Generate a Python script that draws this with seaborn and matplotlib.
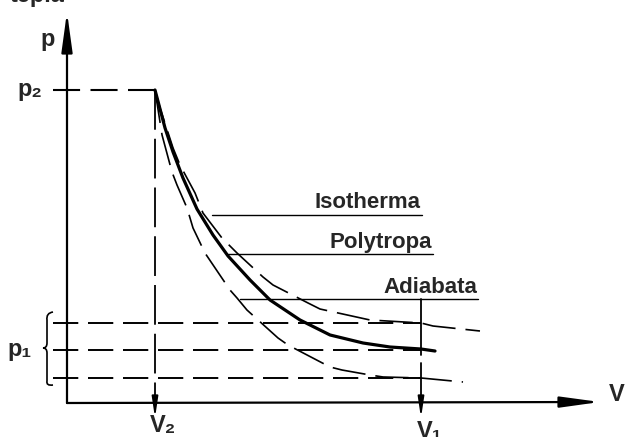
import numpy as np
import matplotlib
matplotlib.use("Agg")
import matplotlib.pyplot as plt
from matplotlib.path import Path
from matplotlib.patches import PathPatch
import seaborn as sns

# p-V diagram: values (V2 = 1, p2 = 10, arbitrary units)
V2, V1 = 1.0, 4.02
p2 = 10.0
p1_levels = [2.56, 1.68, 0.80]   # isotherm / polytrope / adiabat end pressure

iso_V = [1.00, 1.057, 1.205, 1.284, 1.455, 1.545, 1.761, 1.932, 2.227, 2.341, 2.739, 2.875, 3.443, 4.023, 4.159, 4.693]
iso_p = [10.0, 9.425, 8.147, 7.604, 6.709, 6.070, 5.272, 4.792, 4.026, 3.770, 3.195, 3.003, 2.652, 2.556, 2.460, 2.300]

poly_V = [1.00, 1.114, 1.205, 1.318, 1.477, 1.659, 1.830, 2.080, 2.307, 2.648, 2.989, 3.364, 3.670, 4.023, 4.182]
poly_p = [10.0, 8.786, 8.019, 7.188, 6.198, 5.367, 4.696, 3.930, 3.291, 2.652, 2.173, 1.917, 1.789, 1.725, 1.661]

adi_V = [1.00, 1.080, 1.193, 1.250, 1.364, 1.432, 1.568, 1.852, 1.932, 2.045, 2.398, 2.511, 2.989, 3.125, 3.443, 3.591, 4.023, 4.500]
adi_p = [10.0, 8.562, 7.380, 6.965, 6.230, 5.591, 4.792, 3.610, 3.355, 2.971, 2.077, 1.853, 1.150, 1.054, 0.895, 0.831, 0.799, 0.671]

curve_labels = ["Isotherma", "Polytropa", "Adiabata"]

# pixel -> data helper (origin at pixel 67,403; 88 px per V unit, 31.3 px per p unit)
def P(x, y):
    return ((x - 67) / 88.0, (403 - y) / 31.3)

sns.set_style("white")
plt.rcParams['font.family'] = ['Liberation Sans', 'DejaVu Sans']

fig = plt.figure(figsize=(6.28, 4.37), dpi=100)
ax = fig.add_axes([0, 0, 1, 1])
ax.set_xlim(P(0, 0)[0], P(628, 0)[0])
ax.set_ylim(P(0, 437)[1], P(0, 0)[1])
ax.axis('off')

# curves
sns.lineplot(x=iso_V, y=iso_p, ax=ax, sort=False, color='black', lw=1.2,
             linestyle=(0, (20, 6)), solid_joinstyle='round')
sns.lineplot(x=poly_V, y=poly_p, ax=ax, sort=False, color='black', lw=2.3,
             solid_joinstyle='round', solid_capstyle='round')
sns.lineplot(x=adi_V, y=adi_p, ax=ax, sort=False, color='black', lw=1.2,
             linestyle=(0, (20, 6)), solid_joinstyle='round')

# axes with arrows
arrow = dict(arrowstyle='-|>,head_length=1.6,head_width=0.22', mutation_scale=15,
             lw=1.6, color='black', shrinkA=0, shrinkB=0)
ax.annotate('', xy=P(67, 12), xytext=P(67, 403), arrowprops=arrow)
ax.annotate('', xy=P(600, 402), xytext=P(67, 403), arrowprops=arrow)

# dashed guides
dash = (0, (13, 5))
ax.plot([P(53, 0)[0], V2 + 0.09], [p2, p2], color='black', lw=1.5, linestyle=dash)
for lev in p1_levels:
    ax.plot([P(53, 0)[0], V1], [lev, lev], color='black', lw=1.4, linestyle=dash)
ax.plot([V2, V2], [p2, P(0, 398)[1]], color='black', lw=1.3, linestyle=(0, (22, 5)))
small = dict(arrowstyle='-|>,head_length=1.0,head_width=0.15', mutation_scale=12,
             lw=1.3, color='black', shrinkA=0, shrinkB=0)
ax.annotate('', xy=P(155, 418), xytext=P(155, 398), arrowprops=small)
ax.plot([V1, V1], [P(0, 299)[1], P(0, 355)[1]], color='black', lw=1.3)
ax.plot([V1, V1], [P(0, 363)[1], P(0, 400)[1]], color='black', lw=1.3)
ax.annotate('', xy=P(421, 418), xytext=P(421, 398), arrowprops=small)

# label underlines and names
lines = [(212, 422, 215, 208), (228, 433, 254, 248), (240, 478, 299, 293)]
for name, (x0, x1, yl, yb) in zip(curve_labels, lines):
    ax.plot([P(x0, 0)[0], P(x1, 0)[0]], [P(0, yl)[1]] * 2, color='black', lw=1.0)
    ax.text(*P(x1 - 1, yb), name, ha='right', va='baseline', fontsize=16, fontweight='bold')

# brace for p1
bx = [(53, 312), (46, 313), (47, 320), (47, 343), (47, 348), (43, 348),
      (47, 348), (47, 353), (47, 381), (46, 386), (53, 385)]
verts = [P(*v) for v in bx]
codes = [Path.MOVETO, Path.CURVE3, Path.CURVE3, Path.LINETO, Path.CURVE3, Path.CURVE3,
         Path.CURVE3, Path.CURVE3, Path.LINETO, Path.CURVE3, Path.CURVE3]
ax.add_patch(PathPatch(Path(verts, codes), fill=False, lw=1.2, color='black'))

# symbols
fs = 17
ax.text(*P(48, 46), 'p', ha='center', va='baseline', fontsize=fs, fontweight='bold')
ax.text(*P(17, 96), 'p₂', ha='left', va='baseline', fontsize=fs, fontweight='bold')
ax.text(*P(7, 356), 'p₁', ha='left', va='baseline', fontsize=fs, fontweight='bold')
ax.text(*P(150, 432), 'V₂', ha='left', va='baseline', fontsize=fs, fontweight='bold')
ax.text(*P(417, 438), 'V₁', ha='left', va='baseline', fontsize=fs, fontweight='bold')
ax.text(*P(609, 401), 'V', ha='left', va='baseline', fontsize=fs, fontweight='bold')
ax.text(*P(10, 2), 'teplá', ha='left', va='baseline', fontsize=fs, fontweight='bold')

fig.savefig('out.png', dpi=100)
